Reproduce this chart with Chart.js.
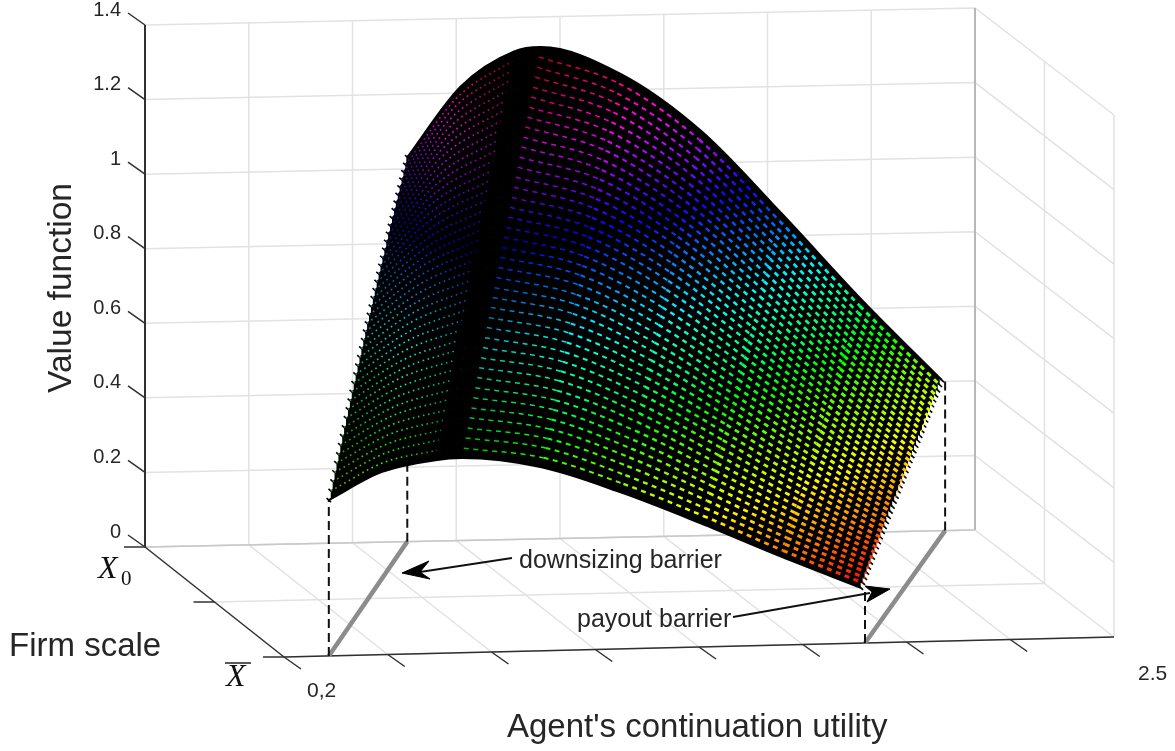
<!DOCTYPE html>
<html>
<head>
<meta charset="utf-8">
<style>
  html, body { margin: 0; padding: 0; background: #fff; }
  canvas { display: block; }
</style>
<script src="https://cdn.jsdelivr.net/npm/chart.js@4/dist/chart.umd.min.js"></script>
</head>
<body>
<canvas id="chart" width="1175" height="751"></canvas>
<script>
// position of each table column between the two barriers (0 = downsizing, 1 = payout)
const barrierPositions = [0, 0.1, 0.2, 0.25, 0.4, 0.55, 0.7, 0.85, 1];

// value function, one row per firm scale level, front (Xbar) to back (X0)
const valueRows = [
  [0.418, 0.490, 0.518, 0.522, 0.492, 0.419, 0.331, 0.237, 0.148],
  [0.435, 0.508, 0.537, 0.541, 0.510, 0.435, 0.344, 0.246, 0.154],
  [0.453, 0.526, 0.557, 0.561, 0.529, 0.451, 0.357, 0.256, 0.160],
  [0.470, 0.543, 0.576, 0.580, 0.547, 0.468, 0.370, 0.265, 0.167],
  [0.487, 0.561, 0.595, 0.600, 0.565, 0.484, 0.383, 0.275, 0.173],
  [0.503, 0.579, 0.614, 0.619, 0.583, 0.500, 0.396, 0.284, 0.179],
  [0.520, 0.597, 0.634, 0.639, 0.602, 0.516, 0.408, 0.294, 0.185],
  [0.537, 0.614, 0.653, 0.658, 0.620, 0.533, 0.421, 0.303, 0.192],
  [0.553, 0.632, 0.672, 0.678, 0.638, 0.549, 0.434, 0.313, 0.198],
  [0.570, 0.650, 0.692, 0.697, 0.657, 0.565, 0.447, 0.322, 0.204],
  [0.586, 0.668, 0.711, 0.716, 0.675, 0.581, 0.460, 0.331, 0.210],
  [0.602, 0.685, 0.730, 0.736, 0.693, 0.598, 0.473, 0.341, 0.217],
  [0.618, 0.703, 0.749, 0.755, 0.711, 0.614, 0.486, 0.350, 0.223],
  [0.634, 0.721, 0.769, 0.775, 0.730, 0.630, 0.499, 0.360, 0.229],
  [0.650, 0.739, 0.788, 0.794, 0.748, 0.646, 0.512, 0.369, 0.235],
  [0.666, 0.756, 0.807, 0.814, 0.766, 0.663, 0.525, 0.379, 0.242],
  [0.681, 0.774, 0.827, 0.833, 0.785, 0.679, 0.537, 0.388, 0.248],
  [0.697, 0.792, 0.846, 0.852, 0.803, 0.695, 0.550, 0.397, 0.254],
  [0.712, 0.810, 0.865, 0.872, 0.821, 0.711, 0.563, 0.407, 0.260],
  [0.727, 0.827, 0.885, 0.891, 0.840, 0.728, 0.576, 0.416, 0.267],
  [0.742, 0.845, 0.904, 0.911, 0.858, 0.744, 0.589, 0.426, 0.273],
  [0.757, 0.863, 0.923, 0.930, 0.876, 0.760, 0.602, 0.435, 0.279],
  [0.772, 0.881, 0.942, 0.950, 0.894, 0.776, 0.615, 0.445, 0.285],
  [0.787, 0.898, 0.962, 0.969, 0.913, 0.793, 0.628, 0.454, 0.292],
  [0.801, 0.916, 0.981, 0.989, 0.931, 0.809, 0.641, 0.464, 0.298],
  [0.816, 0.934, 1.000, 1.008, 0.949, 0.825, 0.654, 0.473, 0.304],
  [0.830, 0.952, 1.020, 1.027, 0.968, 0.841, 0.666, 0.482, 0.310],
  [0.844, 0.970, 1.039, 1.047, 0.986, 0.857, 0.679, 0.492, 0.316],
  [0.858, 0.987, 1.058, 1.066, 1.004, 0.874, 0.692, 0.501, 0.323],
  [0.872, 1.005, 1.077, 1.086, 1.022, 0.890, 0.705, 0.511, 0.329],
  [0.886, 1.023, 1.097, 1.105, 1.041, 0.906, 0.718, 0.520, 0.335],
  [0.900, 1.041, 1.116, 1.125, 1.059, 0.922, 0.731, 0.530, 0.341],
  [0.914, 1.058, 1.135, 1.144, 1.077, 0.939, 0.744, 0.539, 0.348],
  [0.927, 1.076, 1.155, 1.164, 1.096, 0.955, 0.757, 0.549, 0.354],
  [0.941, 1.094, 1.174, 1.183, 1.114, 0.971, 0.770, 0.558, 0.360],
  [0.954, 1.112, 1.193, 1.202, 1.132, 0.987, 0.783, 0.567, 0.366],
  [0.967, 1.129, 1.212, 1.222, 1.150, 1.004, 0.795, 0.577, 0.373],
  [0.980, 1.147, 1.232, 1.241, 1.169, 1.020, 0.808, 0.586, 0.379],
  [0.993, 1.165, 1.251, 1.261, 1.187, 1.036, 0.821, 0.596, 0.385],
  [1.006, 1.183, 1.270, 1.280, 1.205, 1.052, 0.834, 0.605, 0.391],
  [1.018, 1.200, 1.290, 1.300, 1.224, 1.069, 0.847, 0.615, 0.398],
  [1.031, 1.218, 1.309, 1.319, 1.242, 1.085, 0.860, 0.624, 0.404]
];

// barrier position on the utility axis (fraction of its length) at Xbar and at X0
const downsizingBarrier = [0.054, 0.316];
const payoutBarrier = [0.695, 0.96];
const payoutFloorBarrier = [0.70, 0.964];

const zTicks = [0, 0.2, 0.4, 0.6, 0.8, 1, 1.2, 1.4];
const zTickLabels = ["0", "0.2", "0.4", "0.6", "0.8", "1", "1.2", "1.4"];
const uGridCount = 8;
const firmTicks = [0, 0.5, 1];
const zMax = 1.4;

// plot box, as seen from the camera
const frontLeft = { x: 284, y: 657 };
const frontRight = { x: 1114, y: 637 };
const backLeft = { x: 145, y: 547 };
const backRight = { x: 975, y: 530 };
const boxHeight = 522;

function lerp(a, b, t) {
  return a + (b - a) * t;
}

function project(u, firm, z) {
  const frontX = lerp(frontLeft.x, frontRight.x, u);
  const frontY = lerp(frontLeft.y, frontRight.y, u);
  const backX = lerp(backLeft.x, backRight.x, u);
  const backY = lerp(backLeft.y, backRight.y, u);
  return {
    x: lerp(frontX, backX, firm),
    y: lerp(frontY, backY, firm) - z / zMax * boxHeight
  };
}

function surfacePoint(rowIndex, colIndex) {
  const firm = rowIndex / (valueRows.length - 1);
  const left = lerp(downsizingBarrier[0], downsizingBarrier[1], firm);
  const right = lerp(payoutBarrier[0], payoutBarrier[1], firm);
  const u = lerp(left, right, barrierPositions[colIndex]);
  return project(u, firm, valueRows[rowIndex][colIndex]);
}

function rowPoints(rowIndex, from, to) {
  const pts = [];
  for (let c = from; c <= to; c++) pts.push(surfacePoint(rowIndex, c));
  return pts;
}

const valueMin = 0.148;
const valueMax = 1.319;

// same idea as matlab's hsv colormap
function hsvColor(value, lightness) {
  const hue = (value - valueMin) / (valueMax - valueMin) * 360;
  return `hsl(${hue.toFixed(0)}, 100%, ${lightness}%)`;
}

// how bright the coloured dashes are along a row, by table column
const columnLightness = [32, 50, 30, 36, 50, 52, 50, 50, 50];

function rowGradient(chart, rowIndex, from, to) {
  const xScale = chart.scales.x;
  const x0 = xScale.getPixelForValue(surfacePoint(rowIndex, from).x);
  const x1 = xScale.getPixelForValue(surfacePoint(rowIndex, to).x);
  // scales have no size yet on the very first option lookup
  if (!Number.isFinite(x0) || !Number.isFinite(x1)) return "#000";
  const gradient = chart.ctx.createLinearGradient(x0, 0, x1, 0);
  const row = valueRows[rowIndex];
  for (let c = from; c < to; c++) {
    const a = xScale.getPixelForValue(surfacePoint(rowIndex, c).x);
    const b = xScale.getPixelForValue(surfacePoint(rowIndex, c + 1).x);
    for (let k = 0; k < 5; k++) {
      const f = k / 5;
      const offset = (lerp(a, b, f) - x0) / (x1 - x0);
      gradient.addColorStop(offset, hsvColor(lerp(row[c], row[c + 1], f), lerp(columnLightness[c], columnLightness[c + 1], f)));
    }
  }
  gradient.addColorStop(1, hsvColor(row[to], columnLightness[to]));
  return gradient;
}

const datasets = [];

function addLine(data, style) {
  datasets.push(Object.assign({
    data,
    showLine: true,
    pointRadius: 0,
    borderColor: "#e2e2e2",
    borderWidth: 1.5,
    fill: false
  }, style));
}

// back wall and floor grid
const gridStyle = { borderColor: "#e2e2e2", borderWidth: 1.5 };
for (let i = 1; i < uGridCount; i++) {
  const u = i / uGridCount;
  addLine([project(u, 0, 0), project(u, 1, 0), project(u, 1, zMax)], gridStyle);
}
firmTicks.forEach(firm => {
  addLine([project(0, firm, 0), project(1, firm, 0)], gridStyle);
  if (firm < 1) addLine([project(1, firm, 0), project(1, firm, zMax)], gridStyle);
});
zTicks.forEach(z => {
  addLine([project(0, 1, z), project(1, 1, z), project(1, 0, z)], gridStyle);
});
addLine([project(1, 1, 0), project(1, 1, zMax)], { borderColor: "#b8b8b8", borderWidth: 2 });
addLine([project(0, 1, 0), project(1, 1, 0)], { borderColor: "#c8c8c8", borderWidth: 1.5 });

// axes and tick marks
const axisStyle = { borderColor: "#303030", borderWidth: 1.5 };
addLine([project(0, 1, 0), project(0, 1, zMax)], { borderColor: "#303030", borderWidth: 2 });
addLine([project(0, 1, 0), project(0, 0, 0)], axisStyle);
addLine([project(0, 0, 0), project(1, 0, 0)], axisStyle);
zTicks.forEach(z => {
  const p = project(0, 1, z);
  addLine([p, { x: p.x - 17, y: p.y - 12 }], axisStyle);
});
firmTicks.forEach(firm => {
  const p = project(0, firm, 0);
  addLine([p, { x: p.x - 21, y: p.y }], axisStyle);
});
for (let i = 0; i < uGridCount; i++) {
  const p = project(i / uGridCount, 0, 0);
  addLine([p, { x: p.x + 17, y: p.y + 12 }], axisStyle);
}

// barriers on the floor and the dashed drop lines
const lastRow = valueRows.length - 1;
const lastCol = barrierPositions.length - 1;
[downsizingBarrier, payoutFloorBarrier].forEach(b => {
  addLine([project(b[0], 0, 0), project(b[1], 1, 0)], { borderColor: "#8c8c8c", borderWidth: 4.5 });
});
const dashStyle = { borderColor: "#111", borderWidth: 2, borderDash: [9, 5] };
addLine([project(downsizingBarrier[0], 0, 0), project(downsizingBarrier[0], 0, valueRows[0][0])], dashStyle);
addLine([project(downsizingBarrier[1], 1, 0), project(downsizingBarrier[1], 1, valueRows[lastRow][0])], dashStyle);
addLine([project(payoutFloorBarrier[0], 0, 0), project(payoutFloorBarrier[0], 0, valueRows[0][lastCol])], dashStyle);
addLine([project(payoutFloorBarrier[1], 1, 0), project(payoutFloorBarrier[1], 1, valueRows[lastRow][lastCol])], dashStyle);

// black body of the surface: each row is filled down to the next one
valueRows.forEach((row, r) => {
  addLine(rowPoints(r, 0, lastCol), {
    borderColor: "#000",
    borderWidth: (r === 0 || r === lastRow) ? 2 : 1.5,
    cubicInterpolationMode: "monotone",
    fill: r < lastRow ? { target: "+1" } : false,
    backgroundColor: "#000"
  });
});

// saw teeth where the mesh ends at the barriers
const edgeTeeth = [];
valueRows.forEach((row, r) => {
  edgeTeeth.push(surfacePoint(r, lastCol));
  edgeTeeth.push(surfacePoint(r, 0));
});
datasets.push({
  data: edgeTeeth,
  showLine: false,
  pointStyle: "line",
  pointRadius: 3,
  pointRotation: 42,
  pointBorderColor: "#000",
  pointBorderWidth: 1.6
});

// coloured dashes right of the crest, small dots left of it
const rightWidths = [0, 0, 0, 1.5, 2, 2.4, 2.7, 3];
valueRows.forEach((row, r) => {
  if (r === 0 || r === lastRow) return;
  addLine(rowPoints(r, 3, lastCol), {
    borderColor: ctx => rowGradient(ctx.chart, r, 3, lastCol),
    borderWidth: 2,
    borderDash: [5, 4.5],
    cubicInterpolationMode: "monotone",
    segment: { borderWidth: ctx => rightWidths[ctx.p0DataIndex + 3] }
  });
  addLine(rowPoints(r, 0, 2), {
    borderColor: ctx => rowGradient(ctx.chart, r, 0, 2),
    borderWidth: 1.6,
    borderDash: [1.6, 3.6],
    cubicInterpolationMode: "monotone"
  });
});

// arrows of the two annotations
const arrowLine = { borderColor: "#111", borderWidth: 1.8 };
const arrowHead = { borderColor: "#000", borderWidth: 1, backgroundColor: "#000", fill: "shape" };
addLine([{ x: 512, y: 558 }, { x: 420, y: 572 }], arrowLine);
addLine([{ x: 402, y: 573 }, { x: 429, y: 561 }, { x: 420, y: 572 }, { x: 430, y: 579 }, { x: 402, y: 573 }], arrowHead);
addLine([{ x: 733, y: 617 }, { x: 870, y: 593 }], arrowLine);
addLine([{ x: 890, y: 589 }, { x: 865, y: 586 }, { x: 872, y: 592 }, { x: 867, y: 602 }, { x: 890, y: 589 }], arrowHead);

// later datasets paint on top
datasets.forEach((d, i) => { d.order = datasets.length - i; });

const labelsPlugin = {
  id: "labels",
  afterDatasetsDraw(chart) {
    const { ctx, scales } = chart;
    const put = (text, x, y, font, align, color) => {
      ctx.font = font;
      ctx.textAlign = align || "left";
      ctx.textBaseline = "middle";
      ctx.fillStyle = color || "#262626";
      ctx.fillText(text, scales.x.getPixelForValue(x), scales.y.getPixelForValue(y));
    };
    ctx.save();
    const tickFont = '20px "Liberation Sans"';
    zTicks.forEach((z, i) => {
      const p = project(0, 1, z);
      put(zTickLabels[i], 121, p.y - 15, tickFont, "right");
    });
    put("0,2", 307, 691, '21px "Liberation Sans"');
    put("2.5", 1138, 674, '21px "Liberation Sans"');
    put("Firm scale", 9, 647, '33px "Liberation Sans"');
    put("Agent's continuation utility", 507, 728, '33px "Liberation Sans"');
    put("downsizing barrier", 519, 561, '25px "Liberation Sans"');
    put("payout barrier", 577, 620, '25px "Liberation Sans"');

    const mathFont = 'italic 32px "Liberation Serif"';
    put("X", 98, 570, mathFont, "left", "#111");
    put("0", 121, 579, '21px "Liberation Serif"', "left", "#111");
    put("X", 226, 678, mathFont, "left", "#111");
    ctx.strokeStyle = "#222";
    ctx.lineWidth = 1.5;
    ctx.beginPath();
    ctx.moveTo(scales.x.getPixelForValue(225), scales.y.getPixelForValue(663));
    ctx.lineTo(scales.x.getPixelForValue(251), scales.y.getPixelForValue(663));
    ctx.stroke();

    ctx.translate(scales.x.getPixelForValue(62), scales.y.getPixelForValue(288));
    ctx.rotate(-Math.PI / 2);
    ctx.font = '33.5px "Liberation Sans"';
    ctx.textAlign = "center";
    ctx.textBaseline = "middle";
    ctx.fillStyle = "#262626";
    ctx.fillText("Value function", 0, 0);
    ctx.restore();
  }
};

new Chart(document.getElementById("chart"), {
  type: "scatter",
  data: { datasets },
  options: {
    responsive: false,
    animation: false,
    layout: { padding: 0, autoPadding: false },
    plugins: { legend: { display: false }, tooltip: { enabled: false } },
    scales: {
      x: { type: "linear", min: 0, max: 1175, display: false },
      y: { type: "linear", min: 0, max: 751, reverse: true, display: false }
    }
  },
  plugins: [labelsPlugin]
});
</script>
</body>
</html>
